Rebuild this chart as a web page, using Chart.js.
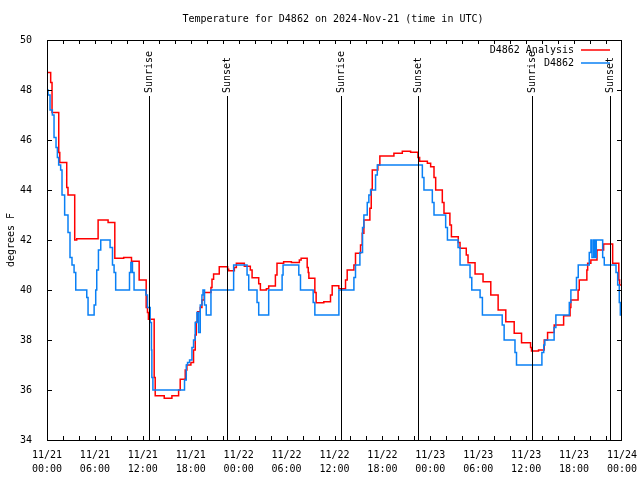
<!DOCTYPE html>
<html>
<head>
<meta charset="utf-8">
<script src="https://cdn.jsdelivr.net/npm/chart.js@4"></script>
<style>
  html, body { margin: 0; padding: 0; background: #fff; }
</style>
</head>
<body>
<canvas id="chart" width="640" height="480"></canvas>
<script>
// hours since 2024-11-21 00:00 UTC
const analysisHours = [0, 0.46, 0.63, 1.47, 1.6, 2.47, 2.63, 3.47, 3.72, 6.4,
  7.65, 8.49, 9.6, 10.58, 11.54, 12.42, 12.58, 12.7, 13.42, 13.55,
  14.68, 15.64, 16.48, 16.68, 17.31, 17.52, 18.02, 18.35, 18.56, 18.69,
  18.86, 19.19, 19.4, 19.69, 20.53, 20.66, 20.86, 21.57, 22.62, 22.75,
  23.46, 23.71, 24.71, 25.46, 25.68, 26.51, 26.72, 27.47, 27.76, 28.6,
  28.8, 29.63, 30.6, 31.6, 31.82, 32.58, 32.71, 32.79, 33.54, 33.7,
  34.66, 35.5, 35.71, 36.54, 37.38, 37.59, 38.43, 38.63, 39.26, 39.47,
  39.68, 40.43, 40.6, 40.73, 41.43, 41.68, 43.44, 44.49, 45.53, 46.45,
  46.66, 47.63, 48.04, 48.46, 48.67, 49.5, 49.71, 50.45, 50.64, 51.5,
  51.72, 52.5, 52.72, 53.6, 54.6, 55.57, 56.49, 57.45, 58.5, 59.42,
  60.55, 60.67, 61.55, 62.26, 62.68, 63.51, 64.69, 65.5, 65.6, 66.5,
  66.65, 67.6, 67.7, 68.1, 68.87, 69.7, 70.83, 71.6, 71.7, 72];
const analysisTemps = [48.7, 48.3, 47.1, 45.5, 45.1, 44.1, 43.8, 42.0, 42.05, 42.8,
  42.7, 41.27, 41.3, 41.15, 40.4, 39.3, 39.1, 38.83, 36.5, 35.77,
  35.67, 35.77, 36.0, 36.43, 36.8, 37.0, 37.1, 37.6, 38.2, 38.73,
  39.13, 39.3, 39.6, 39.9, 40.1, 40.43, 40.64, 40.93, 40.83, 40.77,
  40.9, 41.07, 40.95, 40.8, 40.49, 40.25, 40.0, 40.05, 40.16, 40.6,
  41.07, 41.13, 41.1, 41.2, 41.27, 40.9, 40.7, 40.47, 39.9, 39.49,
  39.53, 39.8, 40.17, 40.05, 40.4, 40.8, 41.0, 41.47, 41.8, 42.27,
  42.8, 43.27, 44.03, 44.8, 45.0, 45.36, 45.47, 45.55, 45.51, 45.3,
  45.15, 45.07, 44.93, 44.5, 44.0, 43.5, 43.07, 42.6, 42.13, 41.9,
  41.67, 41.4, 41.09, 40.64, 40.33, 39.8, 39.2, 38.73, 38.27, 37.89,
  37.7, 37.56, 37.6, 38.0, 38.3, 38.6, 38.97, 39.3, 39.6, 40.0,
  40.4, 40.8, 41.07, 41.2, 41.6, 41.84, 41.07, 40.4, 40.2, 40.2];

const obsHours = [0, 0.13, 0.38, 0.67, 0.88, 1.13, 1.3, 1.46, 1.71, 1.88,
  2.21, 2.63, 2.88, 3.13, 3.39, 3.6, 4.98, 5.14, 5.9, 6.1,
  6.23, 6.44, 6.73, 7.9, 8.2, 8.4, 8.6, 10.33, 10.5, 10.7,
  10.9, 12.38, 12.58, 12.92, 13.08, 13.13, 13.26, 17.22, 17.44, 17.6,
  17.85, 18.15, 18.35, 18.56, 18.77, 18.98, 19.19, 19.4, 19.53, 19.73,
  19.94, 20.53, 23.37, 25.05, 25.26, 26.3, 26.51, 27.76, 29.44, 29.56,
  31.53, 31.74, 33.33, 33.54, 36.55, 38.43, 38.63, 39.18, 39.51, 39.68,
  40.1, 40.3, 40.52, 41.14, 41.36, 47.0, 47.2, 48.25, 48.46, 49.92,
  50.14, 51.47, 51.72, 52.97, 53.19, 54.23, 54.52, 57.0, 57.24, 58.6,
  58.79, 61.97, 62.2, 62.34, 63.5, 63.72, 65.4, 65.6, 66.3, 66.52,
  67.9, 68.11, 68.24, 68.45, 68.61, 68.78, 69.58, 69.78, 71.25, 71.46,
  71.66, 71.79, 72];
const obsTemps = [48.0, 47.8, 47.2, 47.0, 46.1, 45.7, 45.3, 45.0, 44.8, 43.8,
  43.0, 42.3, 41.3, 41.0, 40.7, 40.0, 39.7, 39.0, 39.4, 40.0,
  40.8, 41.6, 42.0, 41.7, 41.0, 40.7, 40.0, 40.7, 41.1, 40.7,
  40.0, 39.8, 39.3, 38.7, 37.6, 36.5, 36.0, 36.4, 37.0, 37.1,
  37.2, 37.7, 38.0, 38.7, 39.1, 38.3, 39.4, 39.8, 40.0, 39.4,
  39.0, 40.0, 41.0, 40.6, 40.0, 39.5, 39.0, 40.0, 40.6, 41.0,
  40.6, 40.0, 39.5, 39.0, 40.0, 40.5, 41.0, 41.5, 42.5, 43.0,
  43.5, 43.8, 44.0, 44.6, 45.0, 44.5, 44.0, 43.5, 43.0, 42.5,
  42.0, 41.7, 41.0, 40.5, 40.0, 39.7, 39.0, 38.6, 38.0, 37.5,
  37.0, 37.5, 37.8, 38.0, 38.5, 39.0, 39.5, 40.0, 40.5, 41.0,
  41.5, 42.0, 41.3, 42.0, 41.3, 42.0, 41.3, 41.0, 40.7, 40.2,
  39.5, 39.0, 39.0];

const tickDays = ['11/21', '11/21', '11/21', '11/21', '11/22', '11/22', '11/22',
  '11/22', '11/23', '11/23', '11/23', '11/23', '11/24'];
const tickTimes = ['00:00', '06:00', '12:00', '18:00', '00:00', '06:00', '12:00',
  '18:00', '00:00', '06:00', '12:00', '18:00', '00:00'];

const sunHours = [12.71, 22.49, 36.78, 46.45, 60.75, 70.53];
const sunNames = ['Sunrise', 'Sunset', 'Sunrise', 'Sunset', 'Sunrise', 'Sunset'];

const RED = '#ff0000';
const BLUE = '#0a80f5';
const FONT = "'DejaVu Sans Mono', monospace";

Chart.defaults.font.family = FONT;
Chart.defaults.font.size = 10;
Chart.defaults.color = '#000';

const toPoints = (xs, ys) => xs.map((x, i) => ({ x: x, y: ys[i] }));

// gnuplot-ish frame, inner ticks, sun markers, legend and titles
const frame = {
  id: 'frame',
  afterDatasetsDraw: function(chart) {
    const ctx = chart.ctx;
    const a = chart.chartArea;
    const x = chart.scales.x;
    const y = chart.scales.y;

    ctx.save();
    ctx.strokeStyle = '#000';
    ctx.lineWidth = 1;

    ctx.beginPath();
    for (let v = 36; v < 50; v += 2) {
      const py = Math.round(y.getPixelForValue(v)) + 0.5;
      ctx.moveTo(a.left, py); ctx.lineTo(a.left + 5, py);
      ctx.moveTo(a.right, py); ctx.lineTo(a.right - 5, py);
    }
    for (let h = 2; h < 72; h += 2) {
      const px = Math.round(x.getPixelForValue(h)) + 0.5;
      ctx.moveTo(px, a.bottom); ctx.lineTo(px, a.bottom - 4);
      ctx.moveTo(px, a.top); ctx.lineTo(px, a.top + 4);
    }
    ctx.stroke();

    ctx.fillStyle = '#000';
    ctx.font = '10px ' + FONT;
    sunHours.forEach((h, i) => {
      const px = Math.round(x.getPixelForValue(h)) + 0.5;
      ctx.beginPath();
      ctx.moveTo(px, 96); ctx.lineTo(px, a.bottom);
      ctx.stroke();
      ctx.save();
      ctx.translate(px, 93);
      ctx.rotate(-Math.PI / 2);
      ctx.textAlign = 'left';
      ctx.textBaseline = 'middle';
      ctx.fillText(sunNames[i], 0, 0);
      ctx.restore();
    });

    ctx.strokeRect(a.left + 0.5, a.top + 0.5, a.right - a.left - 1, a.bottom - a.top);

    // legend
    const items = [['D4862 Analysis', RED, 50], ['D4862', BLUE, 63]];
    ctx.textAlign = 'right';
    ctx.textBaseline = 'middle';
    items.forEach((it) => {
      ctx.fillStyle = '#000';
      ctx.fillText(it[0], 574, it[2]);
      ctx.strokeStyle = it[1];
      ctx.lineWidth = 1.5;
      ctx.beginPath();
      ctx.moveTo(581, it[2]); ctx.lineTo(610, it[2]);
      ctx.stroke();
    });

    ctx.fillStyle = '#000';
    ctx.textAlign = 'center';
    ctx.fillText('Temperature for D4862 on 2024-Nov-21 (time in UTC)', 333, 19);

    ctx.translate(11, 240);
    ctx.rotate(-Math.PI / 2);
    ctx.fillText('degrees F', 0, 0);
    ctx.restore();
  }
};

const chart = new Chart(document.getElementById('chart'), {
  type: 'line',
  data: {
    datasets: [{
      label: 'D4862',
      data: toPoints(obsHours, obsTemps),
      borderColor: BLUE,
      borderWidth: 1.5,
      stepped: true,
      pointRadius: 0,
      fill: false
    }, {
      label: 'D4862 Analysis',
      data: toPoints(analysisHours, analysisTemps),
      borderColor: RED,
      borderWidth: 1.5,
      stepped: true,
      pointRadius: 0,
      fill: false
    }]
  },
  options: {
    responsive: false,
    animation: false,
    layout: { padding: { top: 40, right: 18, left: 0, bottom: 0 } },
    plugins: {
      legend: { display: false },
      tooltip: { enabled: false },
      title: { display: false }
    },
    scales: {
      x: {
        type: 'linear',
        min: 0,
        max: 72,
        grid: { display: false },
        border: { display: false },
        ticks: {
          stepSize: 6,
          autoSkip: false,
          maxRotation: 0,
          padding: 0,
          font: { lineHeight: 1.45 },
          callback: (v) => [tickDays[v / 6], tickTimes[v / 6]]
        },
        afterFit: (s) => {
          s.height = 40;
          s.paddingLeft = 0;
          s.paddingRight = 0;
        }
      },
      y: {
        min: 34,
        max: 50,
        grid: { display: false },
        border: { display: false },
        ticks: { stepSize: 2, padding: 7 },
        afterFit: (s) => { s.width = 47; }
      }
    }
  },
  plugins: [frame]
});
</script>
</body>
</html>
